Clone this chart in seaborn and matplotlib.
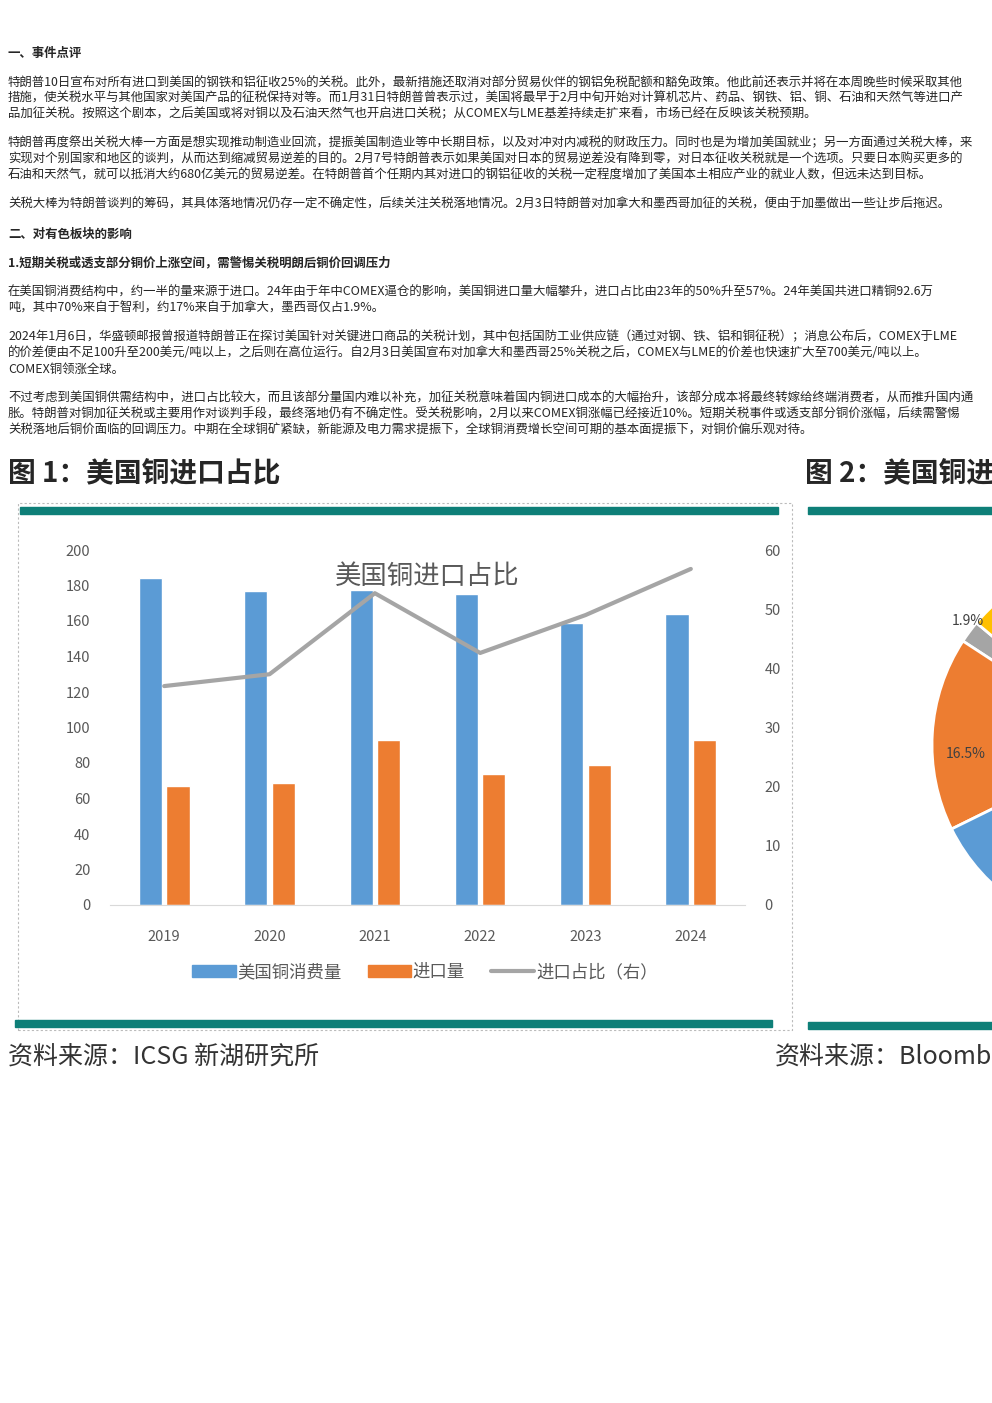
import matplotlib.pyplot as plt
import seaborn as sns
import pandas as pd
from matplotlib.patches import Rectangle, Patch
from matplotlib.lines import Line2D

sns.set_style("white")
plt.rcParams['font.family'] = ['Noto Sans CJK SC', 'DejaVu Sans']

# 数据
years = ["2019", "2020", "2021", "2022", "2023", "2024"]
consumption = [184, 177, 177.5, 175, 159, 164]
imports = [67, 69, 93, 74, 79, 93]
import_ratio = [37, 39, 52.7, 42.6, 49, 56.8]

pie_labels = ["墨西哥", "加拿大", "智利", "其他"]
pie_values = [1.9, 16.5, 70, 11.6]

W, H = 992, 1403
fig = plt.figure(figsize=(W / 100, H / 100), dpi=100)


def px(x, y):
    return x / W, 1 - y / H


lines = [
    (53, "一、事件点评", True),
    (83, "特朗普10日宣布对所有进口到美国的钢铁和铝征收25%的关税。此外，最新措施还取消对部分贸易伙伴的钢铝免税配额和豁免政策。他此前还表示并将在本周晚些时候采取其他", False),
    (98, "措施，使关税水平与其他国家对美国产品的征税保持对等。而1月31日特朗普曾表示过，美国将最早于2月中旬开始对计算机芯片、药品、钢铁、铝、铜、石油和天然气等进口产", False),
    (114, "品加征关税。按照这个剧本，之后美国或将对铜以及石油天然气也开启进口关税；从COMEX与LME基差持续走扩来看，市场已经在反映该关税预期。", False),
    (143, "特朗普再度祭出关税大棒一方面是想实现推动制造业回流，提振美国制造业等中长期目标，以及对冲对内减税的财政压力。同时也是为增加美国就业；另一方面通过关税大棒，来", False),
    (159, "实现对个别国家和地区的谈判，从而达到缩减贸易逆差的目的。2月7号特朗普表示如果美国对日本的贸易逆差没有降到零，对日本征收关税就是一个选项。只要日本购买更多的", False),
    (175, "石油和天然气，就可以抵消大约680亿美元的贸易逆差。在特朗普首个任期内其对进口的钢铝征收的关税一定程度增加了美国本土相应产业的就业人数，但远未达到目标。", False),
    (204, "关税大棒为特朗普谈判的筹码，其具体落地情况仍存一定不确定性，后续关注关税落地情况。2月3日特朗普对加拿大和墨西哥加征的关税，便由于加墨做出一些让步后拖迟。", False),
    (234, "二、对有色板块的影响", True),
    (263, "1.短期关税或透支部分铜价上涨空间，需警惕关税明朗后铜价回调压力", True),
    (292, "在美国铜消费结构中，约一半的量来源于进口。24年由于年中COMEX逼仓的影响，美国铜进口量大幅攀升，进口占比由23年的50%升至57%。24年美国共进口精铜92.6万", False),
    (308, "吨，其中70%来自于智利，约17%来自于加拿大，墨西哥仅占1.9%。", False),
    (337, "2024年1月6日，华盛顿邮报曾报道特朗普正在探讨美国针对关键进口商品的关税计划，其中包括国防工业供应链（通过对钢、铁、铝和铜征税）；消息公布后，COMEX于LME", False),
    (353, "的价差便由不足100升至200美元/吨以上，之后则在高位运行。自2月3日美国宣布对加拿大和墨西哥25%关税之后，COMEX与LME的价差也快速扩大至700美元/吨以上。", False),
    (369, "COMEX铜领涨全球。", False),
    (398, "不过考虑到美国铜供需结构中，进口占比较大，而且该部分量国内难以补充，加征关税意味着国内铜进口成本的大幅抬升，该部分成本将最终转嫁给终端消费者，从而推升国内通", False),
    (414, "胀。特朗普对铜加征关税或主要用作对谈判手段，最终落地仍有不确定性。受关税影响，2月以来COMEX铜涨幅已经接近10%。短期关税事件或透支部分铜价涨幅，后续需警惕", False),
    (430, "关税落地后铜价面临的回调压力。中期在全球铜矿紧缺，新能源及电力需求提振下，全球铜消费增长空间可期的基本面提振下，对铜价偏乐观对待。", False),
]
for y, t, bold in lines:
    fig.text(*px(8, y), t, fontsize=8.95, va="center", ha="left",
             fontweight="bold" if bold else "normal")

fig.text(*px(8, 473), "图 1：美国铜进口占比", fontsize=20, fontweight="bold", va="center")
fig.text(*px(805, 473), "图 2：美国铜进口来源", fontsize=20, fontweight="bold", va="center")
fig.text(*px(8, 1057), "资料来源：ICSG 新湖研究所", fontsize=18, va="center", color="#333333")
fig.text(*px(775, 1057), "资料来源：Bloomberg", fontsize=18, va="center", color="#333333")

# 边框与装饰条
fig.patches.append(Rectangle(px(18, 1030), 774 / W, 527 / H, transform=fig.transFigure,
                             fill=False, ec="#bbbbbb", ls=(0, (2, 2)), lw=0.8))
for x0, x1, y in [(20, 778, 510), (808, 992, 510), (15, 772, 1023), (808, 992, 1025)]:
    fig.patches.append(Rectangle(px(x0, y + 4), (x1 - x0) / W, 7 / H,
                                 transform=fig.transFigure, color="#0e7f78"))

# 主图
ax = fig.add_axes([110 / W, 1 - 905 / H, 635 / W, 355 / H])
df = pd.DataFrame({"年份": years * 2,
                   "值": consumption + imports,
                   "类别": ["美国铜消费量"] * 6 + ["进口量"] * 6})
sns.barplot(data=df, x="年份", y="值", hue="类别", palette=["#5b9bd5", "#ed7d31"],
            saturation=1, width=0.52, gap=0.15, ax=ax, legend=False)
ax.set_ylim(0, 200)
ax.set_yticks(range(0, 201, 20))
ax.set_xlabel("")
ax.set_ylabel("")
for s in ["top", "right", "left"]:
    ax.spines[s].set_visible(False)
ax.spines["bottom"].set_color("#d9d9d9")
ax.tick_params(colors="#595959", labelsize=10.5, length=0)
ax.tick_params(axis="x", pad=18)
ax.tick_params(axis="y", pad=14)
ax.set_title("美国铜进口占比", fontsize=19, color="#595959", y=0.88)

ax2 = ax.twinx()
ax2.plot(range(6), import_ratio, color="#a5a5a5", lw=3)
ax2.set_ylim(0, 60)
ax2.set_yticks(range(0, 61, 10))
for s in ax2.spines.values():
    s.set_visible(False)
ax2.tick_params(colors="#595959", labelsize=10.5, length=0, pad=14)

handles = [Patch(color="#5b9bd5"), Patch(color="#ed7d31"), Line2D([], [], color="#a5a5a5", lw=3)]
fig.legend(handles, ["美国铜消费量", "进口量", "进口占比（右）"], loc="center",
           bbox_to_anchor=(425 / W, 1 - 972 / H), ncol=3, frameon=False,
           fontsize=12.5, labelcolor="#595959", handlelength=2.5, handletextpad=0.1,
           columnspacing=1.5)

# 饼图（右侧截断）
pax = fig.add_axes([932 / W, 1 - 935 / H, 380 / W, 380 / H])
pax.pie(pie_values, colors=["#a5a5a5", "#ed7d31", "#5b9bd5", "#ffc000"],
        startangle=140, counterclock=True,
        wedgeprops=dict(ec="white", lw=2))
pax.set_aspect("equal")
pax.set_xlim(-1, 1)
pax.set_ylim(-1, 1)
fig.text(*px(968, 621), "1.9%", fontsize=10, color="#404040", va="center", ha="center")
fig.text(*px(966, 754), "16.5%", fontsize=10, color="#404040", va="center", ha="center")

fig.savefig("out.png", dpi=100)
